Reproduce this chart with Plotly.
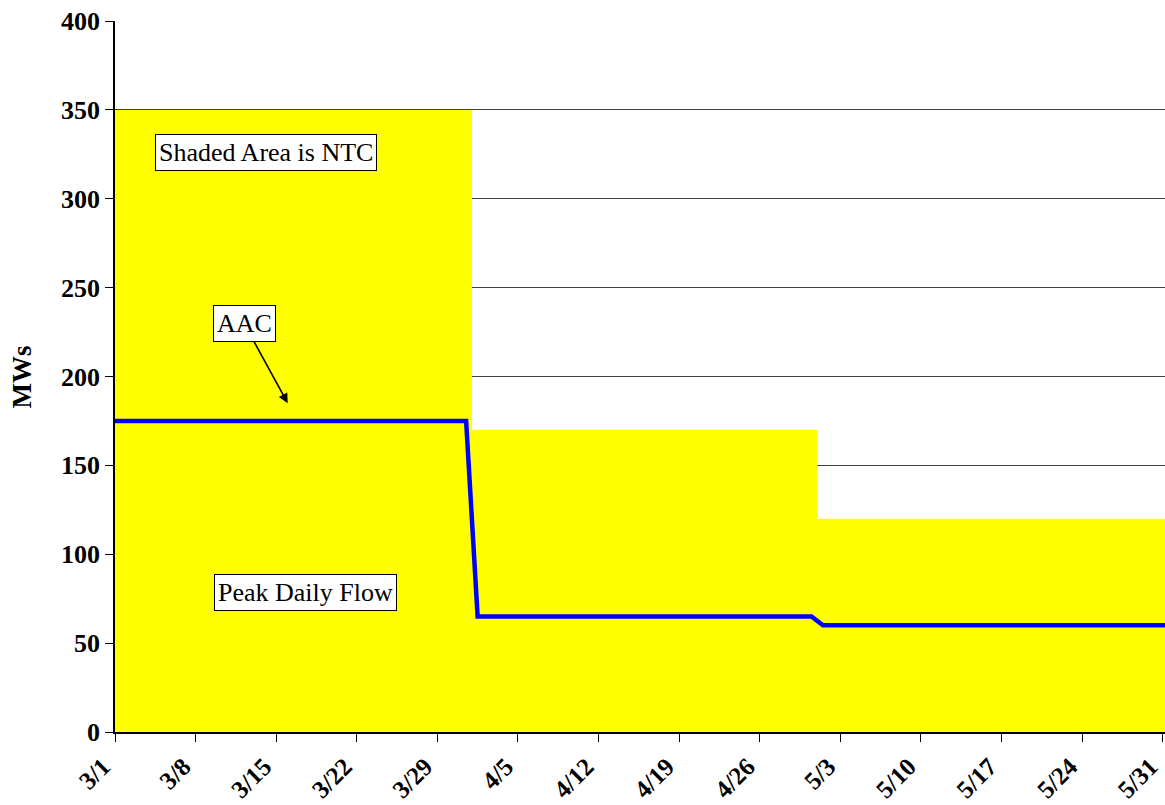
import plotly.graph_objects as go

# NTC (shaded area) step levels, in MW
ntc_dates = ["2008-03-01", "2008-04-01", "2008-05-01", "2008-06-01"]
ntc_values = [350, 170, 120, 120]

# AAC / peak daily flow line, in MW
aac_dates = ["2008-03-01", "2008-03-31 12:00", "2008-04-01 12:00",
             "2008-04-30 12:00", "2008-05-01 12:00", "2008-06-01"]
aac_values = [175, 175, 65, 65, 60, 60]

y_ticks = [0, 50, 100, 150, 200, 250, 300, 350, 400]

FONT = "Times New Roman, Liberation Serif, serif"

fig = go.Figure()

fig.add_trace(go.Scatter(
    x=ntc_dates, y=ntc_values,
    mode="lines", line=dict(shape="hv", width=0, color="#FFFF00"),
    fill="tozeroy", fillcolor="#FFFF00",
    hoverinfo="skip", showlegend=False,
))

fig.add_trace(go.Scatter(
    x=aac_dates, y=aac_values,
    mode="lines", line=dict(color="#0000FF", width=4.5),
    showlegend=False,
))

box = dict(bgcolor="white", bordercolor="black", borderwidth=1, borderpad=3,
           font=dict(family=FONT, size=26, color="black"))

fig.add_annotation(xref="paper", yref="paper", x=0.1438, y=0.8154,
                   xanchor="center", yanchor="middle",
                   text="Shaded Area is NTC", showarrow=False, **box)
fig.add_annotation(xref="paper", yref="paper", x=0.1819, y=0.1968,
                   xanchor="center", yanchor="middle",
                   text="Peak Daily Flow", showarrow=False, **box)
fig.add_annotation(x="2008-03-16", y=185, xref="x", yref="y",
                   text="AAC", showarrow=True, arrowhead=2, arrowsize=1.2,
                   arrowwidth=1.6, arrowcolor="black",
                   ax=-43.5, ay=-79.5, **box)

# y-axis title
fig.add_annotation(xref="paper", yref="paper", x=-0.0886, y=0.5,
                   text="MWs", textangle=-90, showarrow=False,
                   xanchor="center", yanchor="middle",
                   font=dict(family=FONT, size=27, color="black", weight="bold"))

fig.update_xaxes(
    type="date", range=["2008-03-01", "2008-05-31 05:00"],
    tick0="2008-03-01", dtick=7 * 86400000, tickformat="%-m/%-d",
    tickangle=-45, ticks="outside", ticklen=8, tickcolor="black",
    ticklabeloverflow="allow", ticklabelshift=-12, ticklabelstandoff=0,
    tickfont=dict(family=FONT, size=25, color="black", weight="bold"),
    showline=True, linecolor="black", linewidth=2,
    showgrid=False, zeroline=False,
)
fig.update_yaxes(
    range=[0, 400], tickvals=y_ticks, ticks="outside", ticklen=8,
    tickcolor="black",
    tickfont=dict(family=FONT, size=26, color="black", weight="bold"),
    showline=True, linecolor="black", linewidth=1.5,
    showgrid=True, gridcolor="#404040", gridwidth=1, zeroline=False,
)

fig.update_layout(
    width=1165, height=805,
    margin=dict(l=115, r=0, t=21, b=73, autoexpand=False),
    paper_bgcolor="white", plot_bgcolor="white",
    font=dict(family=FONT, color="black"),
)

fig.write_html("out.html")
